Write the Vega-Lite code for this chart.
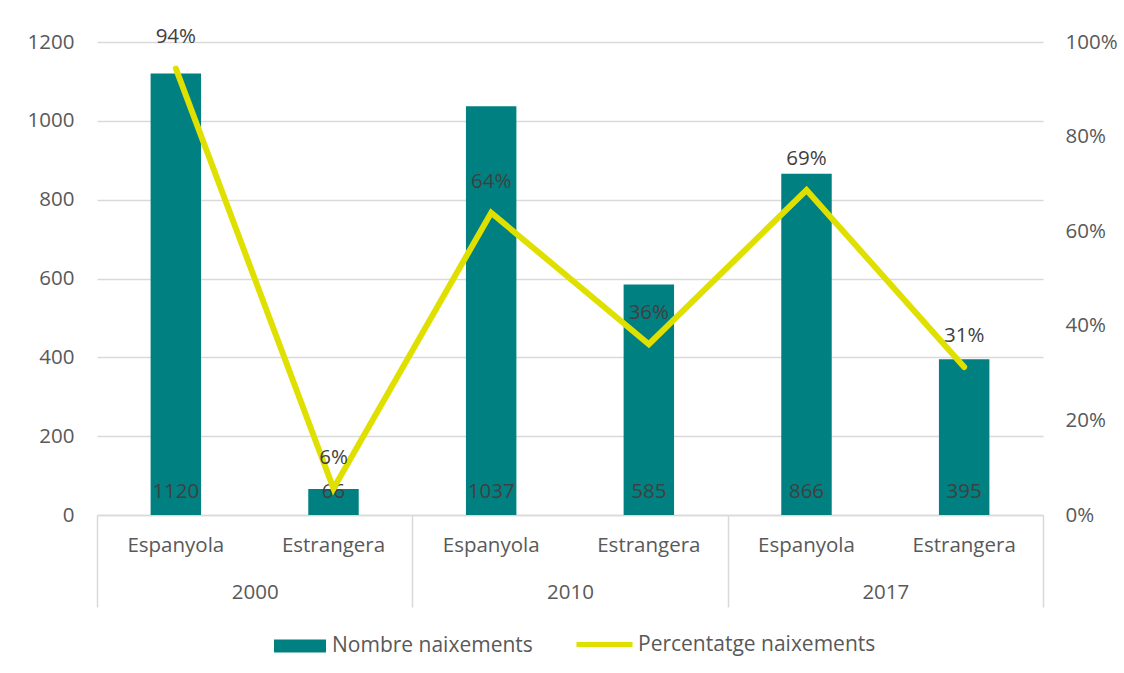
{
  "$schema": "https://vega.github.io/schema/vega-lite/v6.json",
  "width": 946,
  "height": 473,
  "autosize": {"type": "none"},
  "padding": {"left": 97, "top": 42, "right": 81, "bottom": 158},
  "background": "white",
  "config": {
    "view": {"stroke": null},
    "font": "Open Sans",
    "axis": {"labelFont": "Open Sans", "labelFontSize": 20.5, "labelColor": "#595959", "titleFont": "Open Sans", "labelOverlap": false},
    "legend": {"labelFont": "Open Sans", "labelFontSize": 21, "labelColor": "#595959", "labelLimit": 0}
  },
  "datasets": {
    "births": [
      {"year": "2000", "nac": "Espanyola", "key": "2000 Espanyola", "naix": 1120, "pct": 0.944},
      {"year": "2000", "nac": "Estrangera", "key": "2000 Estrangera", "naix": 66, "pct": 0.056},
      {"year": "2010", "nac": "Espanyola", "key": "2010 Espanyola", "naix": 1037, "pct": 0.639},
      {"year": "2010", "nac": "Estrangera", "key": "2010 Estrangera", "naix": 585, "pct": 0.361},
      {"year": "2017", "nac": "Espanyola", "key": "2017 Espanyola", "naix": 866, "pct": 0.687},
      {"year": "2017", "nac": "Estrangera", "key": "2017 Estrangera", "naix": 395, "pct": 0.313}
    ]
  },
  "data": {"name": "births"},
  "layer": [
    {
      "encoding": {
        "x": {"field": "key", "type": "nominal", "sort": null,
          "scale": {"type": "band", "paddingInner": 0, "paddingOuter": 0},
          "axis": {"orient": "bottom", "title": null, "labelAngle": 0, "ticks": false, "tickSize": 0, "labelPadding": 20,
            "domainColor": "#d9d9d9", "domainWidth": 1.5,
            "labelExpr": "split(datum.label, ' ')[1]"}}
      },
      "layer": [
        {
          "mark": {"type": "bar", "width": {"band": 0.32}},
          "encoding": {
            "y": {"field": "naix", "type": "quantitative",
              "scale": {"domain": [0, 1200]},
              "axis": {"title": null, "format": "d", "values": [0, 200, 400, 600, 800, 1000, 1200],
                "domain": false, "ticks": false, "tickSize": 0, "labelPadding": 23,
                "gridColor": "#d9d9d9", "gridWidth": 1.5}},
            "color": {"datum": "Nombre naixements", "type": "nominal",
              "scale": {"range": ["#008080"]},
              "legend": {"title": null, "orient": "none", "legendX": 177, "legendY": 578,
                "symbolType": "M-1,-0.25H1V0.25H-1Z", "symbolSize": 2704, "symbolStrokeWidth": 0,
                "labelOffset": 6}}
          }
        },
        {
          "mark": {"type": "text", "baseline": "bottom", "dy": -13, "fontSize": 20.5, "color": "#404040", "font": "Open Sans"},
          "encoding": {
            "y": {"datum": 0, "type": "quantitative"},
            "text": {"field": "naix", "type": "quantitative"}
          }
        }
      ]
    },
    {
      "encoding": {
        "x": {"field": "key", "type": "nominal", "sort": null,
          "scale": {"type": "band", "paddingInner": 0, "paddingOuter": 0},
          "axis": null},
        "y": {"field": "pct", "type": "quantitative",
          "scale": {"domain": [0, 1]},
          "axis": {"orient": "right", "title": null, "format": ".0%", "values": [0, 0.2, 0.4, 0.6, 0.8, 1],
            "domain": false, "ticks": false, "tickSize": 0, "grid": false, "labelPadding": 22}}
      },
      "layer": [
        {
          "mark": {"type": "line", "strokeWidth": 6, "strokeCap": "round", "strokeJoin": "miter"},
          "encoding": {
            "color": {"datum": "Percentatge naixements", "type": "nominal",
              "scale": {"range": ["#e0e000"]},
              "legend": {"title": null, "orient": "none", "legendX": 477, "legendY": 572,
                "symbolType": "stroke", "symbolSize": 3136, "symbolStrokeWidth": 5,
                "labelOffset": 3}}
          }
        },
        {
          "mark": {"type": "text", "baseline": "middle", "dy": -31, "fontSize": 20.5, "color": "#404040", "font": "Open Sans"},
          "encoding": {
            "text": {"field": "pct", "type": "quantitative", "format": ".0%"}
          }
        }
      ]
    },
    {
      "mark": {"type": "point", "opacity": 0},
      "encoding": {
        "x": {"field": "year", "type": "nominal", "sort": null,
          "scale": {"type": "band", "paddingInner": 0, "paddingOuter": 0},
          "axis": {"orient": "bottom", "title": null, "labelAngle": 0, "domain": false, "ticks": true, "tickBand": "extent",
            "tickSize": 92, "tickColor": "#d9d9d9", "tickWidth": 1.5, "labelPadding": -25}}
      }
    }
  ],
  "resolve": {
    "scale": {"x": "independent", "y": "independent", "color": "independent"},
    "axis": {"x": "independent", "y": "independent"},
    "legend": {"color": "independent"}
  }
}
